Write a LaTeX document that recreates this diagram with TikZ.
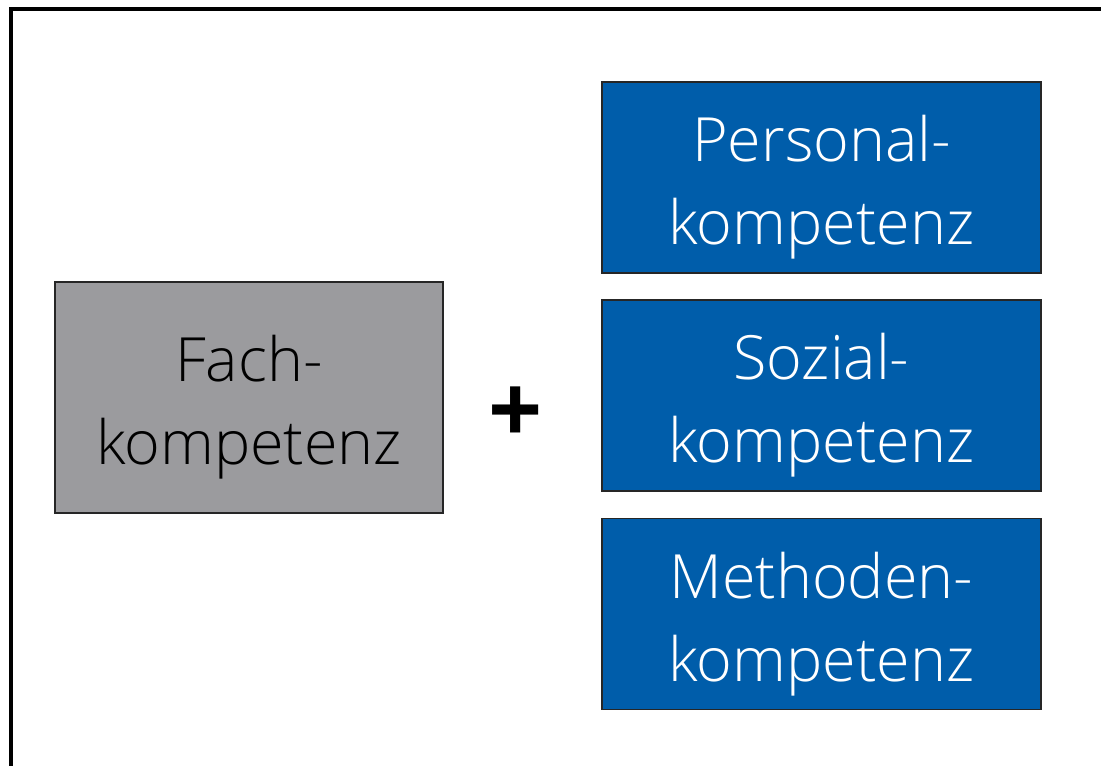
\documentclass[tikz,border=0pt]{standalone}
\usepackage{fontspec}
\setmainfont{Open Sans Light}
\newfontfamily\plusfont{Open Sans}
\newcommand{\topstrut}{\rule{0pt}{66pt}}
\begin{document}
\begin{tikzpicture}[x=1pt,y=-1pt,
  box/.style={draw=black!85,line width=1.2pt,minimum width=#1,inner sep=0pt,align=center,
    font=\fontsize{61}{83}\selectfont},
  bluebox/.style={box=439pt,fill=boxblue,text=white,minimum height=191pt},
]
\definecolor{boxblue}{HTML}{005DAA}
\definecolor{boxgray}{HTML}{9B9B9E}
\useasboundingbox (0,0) rectangle (1101,766);
\fill[white] (0,0) rectangle (1101,766);
\coordinate (fa) at (11,766);
\coordinate (fb) at (11,9);
\coordinate (fc) at (1101,9);
\draw[line width=4pt] (fa) -- (fb) -- (fc);
\node[box=388pt,fill=boxgray,minimum height=231pt] (fach) at (249,397.5) {\topstrut Fach-\\kompetenz};
\node[bluebox] (pers) at (821.5,177.5) {\topstrut Personal-\\kompetenz};
\node[bluebox] (soz) at (821.5,395.5) {\topstrut Sozial-\\kompetenz};
\node[bluebox] (meth) at (821.5,614) {\topstrut Methoden-\\kompetenz};
\node[font=\plusfont\fontsize{95}{95}\selectfont\bfseries,inner sep=0pt] (plus) at (516,415) {+};
\end{tikzpicture}
\end{document}
